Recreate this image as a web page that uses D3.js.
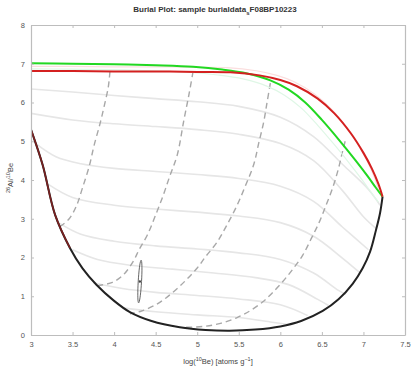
<!DOCTYPE html>
<html>
<head>
<meta charset="utf-8">
<script src="https://cdn.jsdelivr.net/npm/d3@7"></script>
<style>
  html, body { margin: 0; padding: 0; background: #fff; }
  svg { display: block; font-family: "Liberation Sans", Arial, sans-serif; }
</style>
</head>
<body>
<svg id="chart" width="417" height="371"></svg>
<script>
// Axis ticks
const xTicks = [3, 3.5, 4, 4.5, 5, 5.5, 6, 6.5, 7, 7.5];
const xTickLabels = ["3", "3.5", "4", "4.5", "5", "5.5", "6", "6.5", "7", "7.5"];
const yTicks = [0, 1, 2, 3, 4, 5, 6, 7, 8];

// Steady-state erosion line: [log10 N10, 26Al/10Be]
const erosionLine = [
  [3.0, 7.01], [3.5, 7.0], [4.0, 6.99], [4.5, 6.96], [4.95, 6.92], [5.3, 6.85],
  [5.6, 6.75], [5.88, 6.57], [6.1, 6.33], [6.3, 6.0], [6.5, 5.55], [6.7, 5.05],
  [6.9, 4.52], [7.05, 4.1], [7.15, 3.8], [7.23, 3.57]
];
// Constant exposure (no erosion) line
const exposureLine = [
  [3.0, 6.81], [3.5, 6.81], [4.0, 6.8], [4.5, 6.8], [5.0, 6.79], [5.4, 6.78],
  [5.75, 6.7], [6.0, 6.58], [6.2, 6.42], [6.45, 6.1], [6.65, 5.72], [6.85, 5.2],
  [7.0, 4.7], [7.1, 4.3], [7.18, 3.9], [7.23, 3.57]
];
// Burial envelope
const envelope = [
  [3.0, 5.3], [3.14, 4.39], [3.29, 3.1], [3.47, 2.24], [3.62, 1.72], [3.79, 1.29],
  [4.0, 0.88], [4.19, 0.59], [4.45, 0.36], [4.79, 0.2], [5.1, 0.13], [5.39, 0.11],
  [5.7, 0.14], [6.0, 0.22], [6.25, 0.36], [6.51, 0.62], [6.7, 0.92], [6.87, 1.32],
  [6.99, 1.72], [7.08, 2.15], [7.15, 2.7], [7.2, 3.15], [7.23, 3.57]
];
// Burial paths at fixed erosion rate (dashed)
const burialPaths = [
  [[3.95, 6.8], [3.93, 6.4], [3.88, 5.9], [3.83, 5.45], [3.76, 4.9], [3.7, 4.35], [3.62, 3.8], [3.55, 3.35], [3.46, 3.0], [3.35, 2.8]],
  [[4.95, 6.8], [4.9, 6.2], [4.84, 5.55], [4.76, 4.65], [4.67, 4.1], [4.59, 3.6], [4.5, 3.1], [4.4, 2.58], [4.3, 2.2], [4.23, 1.9], [4.11, 1.55], [3.98, 1.36], [3.8, 1.27]],
  [[5.88, 6.5], [5.84, 6.0], [5.8, 5.5], [5.74, 4.95], [5.68, 4.4], [5.58, 3.85], [5.48, 3.35], [5.36, 2.85], [5.24, 2.4], [5.1, 2.02], [5.0, 1.73], [4.88, 1.45], [4.76, 1.2], [4.62, 0.95], [4.5, 0.78], [4.33, 0.62], [4.19, 0.55]],
  [[6.78, 5.0], [6.75, 4.75], [6.7, 4.3], [6.63, 3.8], [6.55, 3.35], [6.47, 2.92], [6.37, 2.48], [6.27, 2.06], [6.15, 1.7], [6.03, 1.38], [5.9, 1.08], [5.79, 0.86], [5.64, 0.63], [5.48, 0.45], [5.28, 0.3], [5.07, 0.22], [4.85, 0.2]]
];
// Iso-burial-time lines (light)
const isoLines = [
  [[3.0, 6.35], [3.5, 6.27], [4.0, 6.18], [4.5, 6.1], [5.0, 6.02], [5.5, 5.9], [6.0, 5.62], [6.4, 5.12], [6.75, 4.4], [7.05, 3.78], [7.2, 3.35]],
  [[3.0, 5.72], [3.5, 5.55], [4.0, 5.45], [4.5, 5.38], [5.0, 5.3], [5.5, 5.18], [6.0, 4.94], [6.4, 4.5], [6.75, 3.72], [7.0, 3.05], [7.15, 2.75]],
  [[3.05, 4.95], [3.3, 4.6], [3.6, 4.42], [4.0, 4.3], [4.5, 4.22], [5.0, 4.14], [5.5, 4.04], [6.0, 3.84], [6.4, 3.45], [6.75, 2.78], [7.06, 2.2]],
  [[3.2, 3.9], [3.5, 3.55], [4.0, 3.35], [4.5, 3.25], [5.0, 3.17], [5.5, 3.07], [6.0, 2.9], [6.4, 2.55], [6.75, 1.98], [6.95, 1.62]],
  [[3.33, 2.9], [3.6, 2.6], [4.0, 2.42], [4.5, 2.3], [5.0, 2.22], [5.5, 2.12], [6.0, 1.95], [6.4, 1.6], [6.7, 1.15], [6.79, 1.05]],
  [[3.5, 2.2], [3.8, 1.95], [4.2, 1.8], [4.7, 1.7], [5.2, 1.6], [5.7, 1.48], [6.1, 1.3], [6.45, 0.92], [6.58, 0.76]],
  [[3.75, 1.35], [4.1, 1.2], [4.5, 1.1], [5.0, 1.02], [5.5, 0.93], [6.0, 0.78], [6.33, 0.5]],
  [[4.1, 0.7], [4.5, 0.6], [5.0, 0.52], [5.5, 0.45], [5.9, 0.33], [6.1, 0.27]]
];
// Sample: log10 N10, ratio, and ellipse half-widths
const sample = { logN: 4.31, ratio: 1.38, sdLogN: 0.02, sdRatio: 0.55 };

const svg = d3.select("#chart");
const margin = { left: 31, right: 12, top: 25, bottom: 36 };
const W = 417, H = 371;
const x = d3.scaleLinear().domain([3, 7.5]).range([margin.left, W - margin.right]);
const y = d3.scaleLinear().domain([0, 8]).range([H - margin.bottom, margin.top]);

const line = d3.line().x(d => x(d[0])).y(d => y(d[1])).curve(d3.curveCatmullRom.alpha(0.5));

const plot = svg.append("g");
plot.append("clipPath").attr("id", "clip").append("rect")
  .attr("x", x(3)).attr("y", y(8)).attr("width", x(7.5) - x(3)).attr("height", y(0) - y(8));
const inner = plot.append("g").attr("clip-path", "url(#clip)");

// iso-burial lines
inner.selectAll(".iso").data(isoLines).join("path")
  .attr("d", line).attr("fill", "none")
  .attr("stroke", "#e6e6e6").attr("stroke-width", 1.6);

// burial paths
inner.selectAll(".bp").data(burialPaths).join("path")
  .attr("d", line).attr("fill", "none")
  .attr("stroke", "#a8a8a8").attr("stroke-width", 1.4)
  .attr("stroke-dasharray", "6,4");

// faint uncertainty shadows
inner.append("path").datum(exposureLine.map(d => [d[0] - 0.04, d[1] + 0.12]))
  .attr("d", line).attr("fill", "none").attr("stroke", "#fbdede").attr("stroke-width", 1.2);
inner.append("path").datum(erosionLine.map(d => [d[0] - 0.05, d[1] - 0.14]))
  .attr("d", line).attr("fill", "none").attr("stroke", "#dff7e6").attr("stroke-width", 1.2);

// envelope
inner.append("path").datum(envelope).attr("d", line).attr("fill", "none")
  .attr("stroke", "#222").attr("stroke-width", 2);
inner.append("path").datum(envelope.slice(0, 4)).attr("d", line).attr("fill", "none")
  .attr("stroke", "#7a2020").attr("stroke-width", 1.6);

// erosion and exposure lines
inner.append("path").datum(erosionLine).attr("d", line).attr("fill", "none")
  .attr("stroke", "#22d822").attr("stroke-width", 2);
inner.append("path").datum(exposureLine).attr("d", line).attr("fill", "none")
  .attr("stroke", "#d42020").attr("stroke-width", 2);

// sample ellipse
const ell = d3.range(0, 361, 10).map(a => {
  const t = a * Math.PI / 180;
  return [sample.logN + sample.sdLogN * Math.cos(t) + 0.015 * Math.sin(t), sample.ratio + sample.sdRatio * Math.sin(t)];
});
inner.append("path").datum(ell)
  .attr("d", d3.line().x(d => x(d[0])).y(d => y(d[1])))
  .attr("fill", "none").attr("stroke", "#555").attr("stroke-width", 0.9);
inner.append("circle").attr("cx", x(sample.logN)).attr("cy", y(sample.ratio))
  .attr("r", 1.2).attr("fill", "#444");

// axes box and ticks (MATLAB-style, inward on all four sides)
const axisColor = "#bdbdbd";
const tickLen = 3;
const axB = svg.append("g").attr("transform", `translate(0,${y(0)})`)
  .call(d3.axisBottom(x).tickValues(xTicks).tickFormat((d, i) => xTickLabels[i]).tickSizeInner(-tickLen).tickSizeOuter(0).tickPadding(7));
const axT = svg.append("g").attr("transform", `translate(0,${y(8)})`)
  .call(d3.axisTop(x).tickValues(xTicks).tickFormat("").tickSizeInner(-tickLen).tickSizeOuter(0));
const axL = svg.append("g").attr("transform", `translate(${x(3)},0)`)
  .call(d3.axisLeft(y).tickValues(yTicks).tickFormat(d3.format("d")).tickSizeInner(-tickLen).tickSizeOuter(0).tickPadding(6));
const axR = svg.append("g").attr("transform", `translate(${x(7.5)},0)`)
  .call(d3.axisRight(y).tickValues(yTicks).tickFormat("").tickSizeInner(-tickLen).tickSizeOuter(0));
[axB, axT, axL, axR].forEach(g => {
  g.select(".domain").attr("stroke", axisColor).attr("stroke-width", 1.2);
  g.selectAll(".tick line").attr("stroke", axisColor);
  g.selectAll(".tick text").attr("fill", "#555").attr("font-size", 7.5)
    .attr("font-family", "Liberation Sans, Arial, sans-serif");
});

// title
const title = svg.append("text").attr("x", 215).attr("y", 12).attr("text-anchor", "middle")
  .attr("font-size", 8).attr("font-weight", "bold").attr("fill", "#333");
title.append("tspan").text("Burial Plot: sample burialdata");
title.append("tspan").attr("dy", 2.5).attr("font-size", 6).text("s");
title.append("tspan").attr("dy", -2.5).text("F08BP10223");

// x label
const xl = svg.append("text").attr("x", 218).attr("y", 364).attr("text-anchor", "middle")
  .attr("font-size", 7.5).attr("fill", "#444");
xl.append("tspan").text("log(");
xl.append("tspan").attr("dy", -3).attr("font-size", 5.5).text("10");
xl.append("tspan").attr("dy", 3).text("Be) [atoms g");
xl.append("tspan").attr("dy", -3).attr("font-size", 5.5).text("−1");
xl.append("tspan").attr("dy", 3).text("]");

// y label
const yl = svg.append("text").attr("transform", "translate(13,178) rotate(-90)")
  .attr("text-anchor", "middle").attr("font-size", 7.5).attr("fill", "#444");
yl.append("tspan").attr("dy", -3).attr("font-size", 5.5).text("26");
yl.append("tspan").attr("dy", 3).text("Al/");
yl.append("tspan").attr("dy", -3).attr("font-size", 5.5).text("10");
yl.append("tspan").attr("dy", 3).text("Be");
</script>
</body>
</html>
